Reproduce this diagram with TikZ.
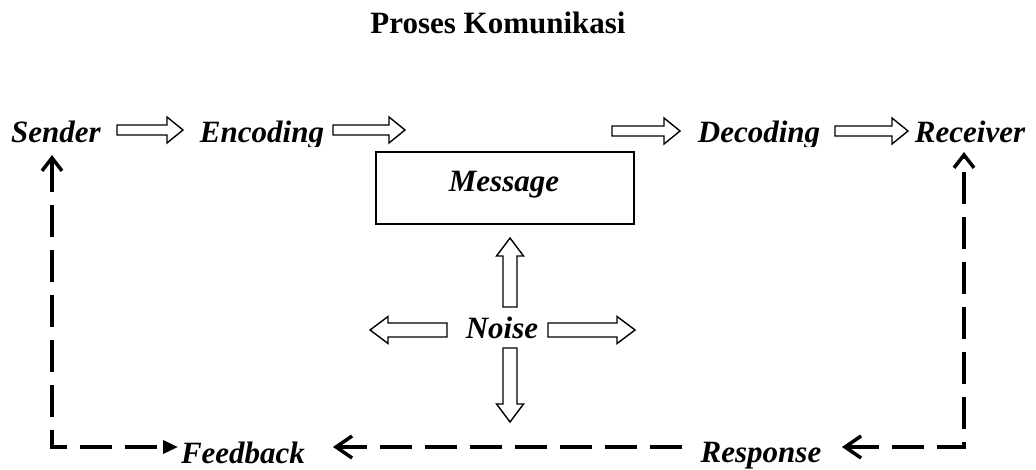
\documentclass[tikz,border=0pt]{standalone}
\usepackage{fontspec}
\setmainfont{Liberation Serif}
\usetikzlibrary{arrows.meta}
\tikzset{
  pics/harrowA/.style={code={\draw[line width=1.4pt, line join=miter, fill=white]
    (0,-5) -- (#1-16,-5) -- (#1-16,-13) -- (#1,0) -- (#1-16,13) -- (#1-16,5) -- (0,5) -- cycle;}},
  pics/harrowB/.style={code={\draw[line width=1.4pt, line join=miter, fill=white]
    (0,-7) -- (#1-18,-7) -- (#1-18,-13.5) -- (#1,0) -- (#1-18,13.5) -- (#1-18,7) -- (0,7) -- cycle;}},
  ob/.tip={Straight Barb[length=13pt,width=20pt]},
  obh/.tip={Straight Barb[length=16pt,width=22pt]},
  ft/.tip={Triangle[length=15pt,width=13pt]},
}
\begin{document}
\begin{tikzpicture}[x=1pt,y=-1pt,
  txt/.style={font=\fontsize{31}{37}\selectfont\bfseries\itshape, inner sep=0pt, anchor=base},
  ttl/.style={font=\fontsize{31}{37}\selectfont\bfseries, inner sep=0pt, anchor=base},
  dashline/.style={line width=3.5pt, dash pattern=on 32pt off 13pt},
  box/.style={draw, line width=1.4pt, minimum width=258pt, minimum height=72pt, inner sep=0pt}]
\useasboundingbox (0,0) rectangle (1036,470);

\node[ttl] (title) at (498,34) {Proses Komunikasi};

\begin{scope}
  \clip (0,0) rectangle (1036,147);
  \node[txt] (sender) at (56,143) {Sender};
  \node[txt] (encoding) at (262,143) {Encoding};
  \node[txt] (decoding) at (759,143) {Decoding};
  \node[txt] (receiver) at (970,143) {Receiver};
\end{scope}

\pic at (117,130) {harrowA=66};
\pic at (333,130) {harrowA=72};
\pic at (612,131) {harrowA=68};
\pic at (835,131) {harrowA=73};

\node[box] (msgbox) at (505,188) {};
\node[txt] (message) at (504,192) {Message};

\node[txt] (noise) at (502,338) {Noise};
\pic[rotate=90] at (510,307) {harrowB=69};
\pic[rotate=-90] at (510,348) {harrowB=74};
\pic[rotate=180] at (447,330) {harrowB=77};
\pic at (548,330) {harrowB=87};

\node[txt] (feedback) at (243,463) {Feedback};
\node[txt] (response) at (761,462) {Response};

\coordinate (sendup) at (52,155);
\coordinate (lcorner) at (52,447);
\coordinate (fbin) at (178,447);
\coordinate (fbout) at (333,447);
\coordinate (rsmid) at (682,447);
\coordinate (rsin) at (842,447);
\coordinate (rcorner) at (964,447);
\coordinate (recup) at (964,152);

\draw[dashline, {ob}-{ft}] (sendup) -- (lcorner) -- (fbin);
\draw[dashline, -{obh}] (rsmid) -- (fbout);
\draw[dashline, {obh}-{ob}] (rsin) -- (rcorner) -- (recup);
\end{tikzpicture}
\end{document}
